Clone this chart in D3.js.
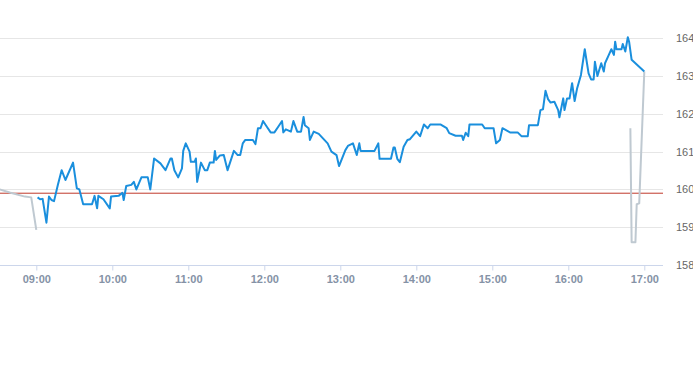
<!DOCTYPE html>
<html>
<head>
<meta charset="utf-8">
<script src="https://cdn.jsdelivr.net/npm/d3@7/dist/d3.min.js"></script>
<style>
  html, body { margin: 0; padding: 0; background: #fff; }
  svg { display: block; font-family: "Liberation Sans", Arial, sans-serif; }
</style>
</head>
<body>
<svg id="chart" width="693" height="365"></svg>
<script>
// ---- data ----
const preTimes  = ["08:31","08:39","08:51","08:56","09:00"];
const preValues = [160.00,159.92,159.81,159.79,158.93];

const mainTimes = ["09:01","09:03","09:05","09:06","09:08","09:10","09:12","09:14","09:17","09:20",
  "09:23","09:29","09:32","09:34","09:37","09:44","09:46","09:48","09:49","09:53",
  "09:58","09:59","10:05","10:08","10:09","10:11","10:15","10:17","10:19","10:23",
  "10:28","10:30","10:33","10:38","10:42","10:46","10:47","10:49","10:52","10:55",
  "10:56","10:58","11:01","11:02","11:05","11:06","11:07","11:10","11:13","11:15",
  "11:17","11:20","11:21","11:22","11:25","11:28","11:31","11:36","11:39","11:41",
  "11:43","11:45","11:51","11:53","11:55","11:57","11:59","12:02","12:05","12:08",
  "12:11","12:14","12:15","12:17","12:21","12:23","12:26","12:29","12:31","12:32",
  "12:35","12:36","12:39","12:43","12:50","12:53","12:57","12:59","13:04","13:06",
  "13:10","13:13","13:15","13:16","13:27","13:30","13:31","13:40","13:42","13:43",
  "13:45","13:47","13:50","13:53","13:55","14:00","14:03","14:06","14:09","14:11",
  "14:19","14:24","14:26","14:31","14:36","14:37","14:39","14:41","14:42","14:52",
  "14:54","15:01","15:03","15:06","15:08","15:14","15:20","15:23","15:28","15:29",
  "15:36","15:38","15:40","15:42","15:44","15:46","15:49","15:52","15:53","15:56",
  "15:57","15:59","16:01","16:03","16:05","16:07","16:10","16:13","16:16","16:18",
  "16:20","16:21","16:23","16:26","16:28","16:29","16:32","16:34","16:36","16:37",
  "16:38","16:42","16:43","16:45","16:47","16:48","16:50","17:00"];
const mainValues = [159.79,159.74,159.75,159.54,159.12,159.81,159.72,159.69,160.12,160.51,
  160.25,160.71,160.03,160.00,159.61,159.61,159.83,159.50,159.83,159.74,
  159.50,159.81,159.83,159.91,159.72,160.09,160.12,160.20,160.00,160.32,
  160.32,160.00,160.82,160.69,160.51,160.82,160.82,160.51,160.32,160.56,
  161.02,161.22,161.00,160.73,160.73,160.82,160.20,160.71,160.51,160.51,
  160.71,160.71,161.02,160.78,160.90,160.91,160.51,161.02,160.91,160.91,
  161.22,161.31,161.31,161.20,161.62,161.62,161.81,161.66,161.51,161.51,
  161.66,161.81,161.51,161.59,161.53,161.81,161.53,161.53,161.92,161.70,
  161.62,161.31,161.53,161.47,161.22,161.00,160.91,160.62,161.04,161.15,
  161.22,160.91,161.22,161.02,161.02,161.22,160.81,160.81,161.11,161.11,
  160.81,160.72,161.13,161.31,161.33,161.53,161.41,161.72,161.62,161.72,
  161.72,161.62,161.49,161.42,161.42,161.31,161.50,161.41,161.72,161.72,
  161.62,161.62,161.22,161.31,161.62,161.51,161.51,161.41,161.41,161.70,
  161.70,162.10,162.12,162.61,162.39,162.30,162.32,162.10,161.91,162.41,
  162.10,162.41,162.41,162.81,162.34,162.68,163.03,163.71,163.07,162.91,
  162.91,163.38,163.00,163.34,163.12,163.34,163.56,163.71,163.56,163.91,
  163.71,163.71,163.85,163.65,164.03,163.91,163.43,163.12];

const postTimes  = ["16:49","16:50","16:53","16:54","16:56","17:00"];
const postValues = [161.62,158.60,158.60,159.61,159.63,163.12];

const previousClose = 159.90;
const yTicks = [158,159,160,161,162,163,164];
const xTickLabels = ["09:00","10:00","11:00","12:00","13:00","14:00","15:00","16:00","17:00"];

// ---- chart ----
const parse = d3.timeParse("%H:%M");
const svg = d3.select("#chart");
const plotLeft = 0, plotRight = 663;

const x = d3.scaleTime()
  .domain([parse("08:30"), parse("17:15")])
  .range([-1.7, 663.3]);
const y = d3.scaleLinear().domain([158, 164]).range([265, 38.3]);

// grid
svg.append("g").selectAll("line").data(yTicks.filter(d => d !== 158)).join("line")
  .attr("x1", plotLeft).attr("x2", plotRight)
  .attr("y1", d => Math.round(y(d)) + 0.5).attr("y2", d => Math.round(y(d)) + 0.5)
  .attr("stroke", "#e6e6e6").attr("stroke-width", 1);

// y labels
svg.append("g").selectAll("text").data(yTicks).join("text")
  .attr("x", 676).attr("y", d => y(d) + 4)
  .attr("font-size", 11).attr("fill", "#666")
  .text(d => d);

// x axis
const xAxis = d3.axisBottom(x)
  .tickValues(xTickLabels.map(parse))
  .tickFormat(d3.timeFormat("%H:%M"))
  .tickSize(5).tickPadding(5);
const gx = svg.append("g").attr("transform", "translate(0,265.5)").call(xAxis);
gx.select(".domain").remove();
gx.append("line").attr("x1", plotLeft).attr("x2", plotRight).attr("y1", 0).attr("y2", 0)
  .attr("stroke", "#ccd6eb");
gx.selectAll(".tick line").attr("stroke", "#ccd6eb");
gx.selectAll(".tick text").attr("fill", "#8592a6").attr("font-size", 11)
  .attr("font-weight", "bold").attr("font-family", "'Liberation Sans', Arial, sans-serif");

// clip
svg.append("clipPath").attr("id", "clip").append("rect")
  .attr("x", plotLeft).attr("y", 0).attr("width", plotRight - plotLeft).attr("height", 265);

const line = d3.line().x(d => x(d[0])).y(d => y(d[1]));
const zip = (ts, vs) => ts.map((t, i) => [parse(t), vs[i]]);

const g = svg.append("g").attr("clip-path", "url(#clip)");

// previous close
g.append("line").attr("x1", plotLeft).attr("x2", plotRight)
  .attr("y1", y(previousClose)).attr("y2", y(previousClose))
  .attr("stroke", "#c0392b").attr("stroke-width", 1);

g.append("path").datum(zip(preTimes, preValues)).attr("d", line)
  .attr("fill", "none").attr("stroke", "#bfc9d1").attr("stroke-width", 2)
  .attr("stroke-linejoin", "round");

g.append("path").datum(zip(postTimes, postValues)).attr("d", line)
  .attr("fill", "none").attr("stroke", "#bfc9d1").attr("stroke-width", 2)
  .attr("stroke-linejoin", "round");

g.append("path").datum(zip(mainTimes, mainValues)).attr("d", line)
  .attr("fill", "none").attr("stroke", "#1a8fdd").attr("stroke-width", 2)
  .attr("stroke-linejoin", "round");
</script>
</body>
</html>
